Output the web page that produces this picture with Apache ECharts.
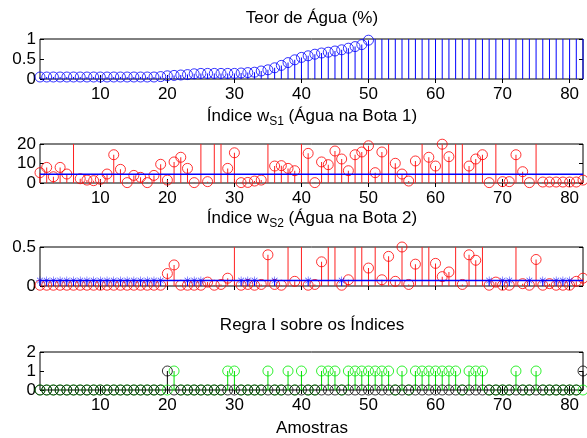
<!DOCTYPE html>
<html>
<head>
<meta charset="utf-8">
<script src="https://cdn.jsdelivr.net/npm/echarts@6/dist/echarts.min.js"></script>
<style>
html,body{margin:0;padding:0;background:#fff;}
#chart{width:587px;height:438px;}
</style>
</head>
<body>
<div id="chart"></div>
<script>
// eixo x comum: amostras 1..82
var marcasX = [10, 20, 30, 40, 50, 60, 70, 80];

// Teor de Agua (%) - valores acima de 1 saem do grafico
var teorAgua = [0.05,0.05,0.05,0.05,0.05,0.05,0.05,0.05,0.05,0.05,
                0.05,0.05,0.05,0.05,0.05,0.05,0.05,0.05,0.06,0.08,
                0.09,0.10,0.11,0.13,0.14,0.14,0.14,0.14,0.14,0.14,
                0.15,0.16,0.17,0.20,0.23,0.28,0.34,0.41,0.48,0.54,
                0.58,0.62,0.65,0.67,0.70,0.73,0.77,0.81,0.86,0.97,
                1.5,1.5,1.5,1.5,1.5,1.5,1.5,1.5,1.5,1.5,
                1.5,1.5,1.5,1.5,1.5,1.5,1.5,1.5,1.5,1.5,
                1.5,1.5,1.5,1.5,1.5,1.5,1.5,1.5,1.5,1.5,
                1.5,1.5];

// Indice wS1 (Agua na Bota 1)
var ws1 = [5.3,8.0,3.2,8.0,4.6,30,2.2,1.5,1.2,1.9,
           4.6,14.5,7.0,0.2,3.9,2.9,0.2,3.9,9.6,1.5,
           10.8,13.2,7.5,0.2,30,0.7,30,30,7.5,15.5,
           0.2,0.3,1.0,1.5,30,8.7,8.9,7.5,6.3,30,
           15.2,0.2,10.8,9.4,16.4,12.3,6.3,14.5,15.9,19.1,
           5.3,15.9,30,10.1,4.6,1.0,11.3,30,13.2,8.7,
           19.9,13.5,30,30,8.7,12.3,14.5,0.2,30,0.7,
           0.7,14.5,5.8,0.2,30,0.5,0.5,0.5,0.5,0.5,
           0.5,1.5];
var ws1Limite = 4.5;

// Indice wS2 (Agua na Bota 2)
var ws2 = [0.01,0.01,0.01,0.01,0.01,0.01,0.01,0.01,0.01,0.01,
           0.01,0.01,0.01,0.01,0.01,0.01,0.01,0.01,0.01,0.16,
           0.27,0.01,0.01,0.01,0.01,0.05,0.01,0.02,0.10,1,
           0.01,0.02,0.01,0.02,0.40,0.02,0.01,1,0.06,1,
           0.01,0.02,0.31,1,1,0.01,0.08,1,1,0.23,
           1,0.08,0.38,0.06,0.50,0.02,0.28,1,1,0.29,
           0.12,0.18,1,0.02,0.40,0.33,1,0.01,0.05,0.01,
           0.01,1,0.03,0.01,0.34,0.01,0.03,0.01,0.01,0.01,
           0.06,0.10];
var ws2Limite = 0.07;
var ws2Estrelas = [1,2,3,4,5,6,7,8,9,10,11,12,13,14,15,16,17,18,19,
                   23,24,25,31,32,33,36,41,46,68,70,71,74,76,78,79,80];

// Regra I sobre os indices
var regraPreta = [0,0,0,0,0,0,0,0,0,0,0,0,0,0,0,0,0,0,0,1,
                  0,0,0,0,0,0,0,0,0,0,0,0,0,0,0,0,0,0,0,0,
                  0,0,0,0,0,0,0,0,0,0,0,0,0,0,0,0,0,0,0,0,
                  0,0,0,0,0,0,0,0,0,0,0,0,0,0,0,0,0,0,0,0,
                  0,1];
var regraVerdeUm = [21,29,30,35,38,40,43,44,45,47,48,49,50,51,52,53,55,
                    57,58,59,60,61,62,63,65,66,67,72,75];

var fonte = '"Liberation Sans", Arial, sans-serif';
var estrela = 'path://M9.3,0 h1.4 v20 h-1.4 z M0,9.3 h20 v1.4 h-20 z ' +
              'M2.4,3.4 L3.4,2.4 L17.6,16.6 L16.6,17.6 z M16.6,2.4 L17.6,3.4 L3.4,17.6 L2.4,16.6 z';

var paineis = [
  {top: 39, height: 40, min: 0, max: 1, interval: 0.5, rotulos: true},
  {top: 144, height: 39, min: 0, max: 20, interval: 10, rotulos: true},
  {top: 247, height: 39, min: 0, max: 0.5, interval: 0.5, rotulos: false},
  {top: 352, height: 38, min: 0, max: 2, interval: 1, rotulos: true}
];

var grids = [], xAxes = [], yAxes = [], series = [];
paineis.forEach(function(p, gi){
  grids.push({left: 40, right: 4, top: p.top, height: p.height, show: true,
              borderColor: '#000', borderWidth: 1, backgroundColor: '#fff'});
  ['bottom', 'top'].forEach(function(pos){
    xAxes.push({
      gridIndex: gi, type: 'value', min: 1, max: 82, position: pos,
      axisLine: {show: false}, splitLine: {show: false},
      axisTick: {show: true, inside: true, length: 4, customValues: marcasX, lineStyle: {color: '#000'}},
      axisLabel: {show: pos == 'bottom' && p.rotulos, customValues: marcasX, fontSize: 17,
                  fontFamily: fonte, color: '#000', margin: 7}
    });
  });
  ['left', 'right'].forEach(function(pos){
    yAxes.push({
      gridIndex: gi, type: 'value', min: p.min, max: p.max, interval: p.interval, position: pos,
      axisLine: {show: false}, splitLine: {show: false},
      axisTick: {show: true, inside: true, length: 4, lineStyle: {color: '#000'}},
      axisLabel: {show: pos == 'left', fontSize: 17, fontFamily: fonte, color: '#000', margin: 4}
    });
  });
});

function pares(valores){
  return valores.map(function(v, i){ return [i + 1, v]; });
}
function haste(gi, dados, cor){
  return {type: 'bar', xAxisIndex: gi * 2, yAxisIndex: gi * 2, data: dados, barWidth: 1,
          barGap: '-100%', clip: true, silent: true, itemStyle: {color: cor}};
}
function marca(gi, dados, cor, simbolo, tam){
  var estilo = simbolo == 'circle' ?
      {color: 'rgba(0,0,0,0)', borderColor: cor, borderWidth: 1} : {color: cor};
  return {type: 'scatter', xAxisIndex: gi * 2, yAxisIndex: gi * 2, data: dados, symbol: simbolo,
          symbolSize: tam, clip: true, silent: true, itemStyle: estilo};
}
function linha(gi, valor, cor){
  return {type: 'line', xAxisIndex: gi * 2, yAxisIndex: gi * 2, data: [[1, valor], [82, valor]],
          symbol: 'none', silent: true, lineStyle: {color: cor, width: 1.4}};
}

// painel 1
series.push(haste(0, pares(teorAgua), '#0000ff'));
series.push(marca(0, pares(teorAgua), '#0000ff', 'circle', 10));
// painel 2
series.push(haste(1, pares(ws1), '#ff2020'));
series.push(marca(1, pares(ws1), '#ff0000', 'circle', 10));
series.push(linha(1, ws1Limite, '#0000ff'));
// painel 3
var estrelas = ws2Estrelas.map(function(u){ return [u, ws2Limite]; });
series.push(haste(2, pares(ws2), '#ff2020'));
series.push(marca(2, pares(ws2), '#ff0000', 'circle', 10));
series.push(haste(2, estrelas, '#0000ff'));
series.push(marca(2, estrelas, '#0000ff', estrela, 8));
series.push(linha(2, ws2Limite, '#0000ff'));
// painel 4
var verde = regraPreta.map(function(v, i){
  return [i + 1, regraVerdeUm.indexOf(i + 1) >= 0 ? 1 : 0];
});
series.push(haste(3, verde, '#00dd00'));
series.push(marca(3, verde, '#00ee00', 'circle', 10));
series.push(haste(3, pares(regraPreta), '#000000'));
series.push(marca(3, pares(regraPreta), '#000000', 'circle', 10));

function titulo(y, texto){
  return {type: 'text', x: 312, y: y, silent: true,
          style: {text: texto, align: 'center', verticalAlign: 'middle', fill: '#000',
                  font: '17px ' + fonte,
                  rich: {t: {fontSize: 17, fontFamily: fonte, fill: '#000', lineHeight: 20, verticalAlign: 'top'},
                         s: {fontSize: 12, fontFamily: fonte, fill: '#000', lineHeight: 14, verticalAlign: 'bottom'}}}};
}

var chart = echarts.init(document.getElementById('chart'), null, {renderer: 'canvas'});
chart.setOption({
  animation: false,
  backgroundColor: '#fff',
  grid: grids,
  xAxis: xAxes,
  yAxis: yAxes,
  series: series,
  graphic: [
    titulo(18, 'Teor de Água (%)'),
    titulo(118, '{t|Índice w}{s|S1}{t| (Água na Bota 1)}'),
    titulo(220, '{t|Índice w}{s|S2}{t| (Água na Bota 2)}'),
    titulo(325, 'Regra I sobre os Índices'),
    titulo(428, 'Amostras')
  ]
});
</script>
</body>
</html>
